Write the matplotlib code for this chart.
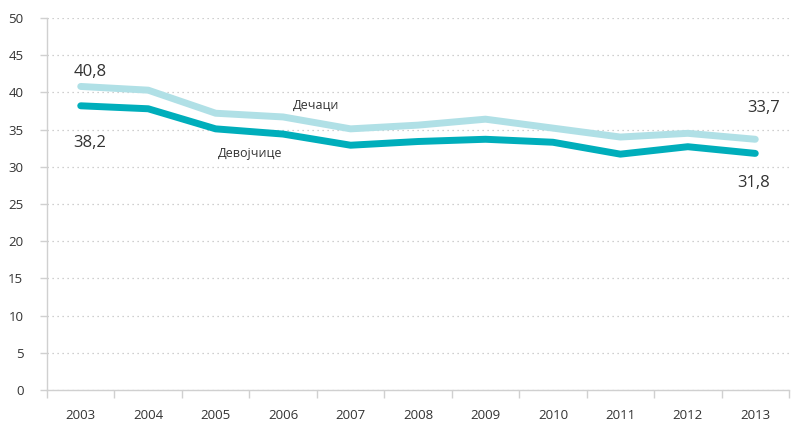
import matplotlib.pyplot as plt
import numpy as np

# values
years = ['2003', '2004', '2005', '2006', '2007', '2008', '2009', '2010', '2011', '2012', '2013']
boys = [40.8, 40.3, 37.2, 36.7, 35.1, 35.6, 36.4, 35.2, 34.0, 34.5, 33.7]
girls = [38.2, 37.8, 35.1, 34.4, 32.9, 33.4, 33.7, 33.3, 31.7, 32.7, 31.8]

plt.rcParams['font.family'] = ['Open Sans', 'DejaVu Sans']

fig = plt.figure(figsize=(7.91, 4.23), dpi=100)
ax = fig.add_axes([47 / 791, 1 - 390 / 423, 742 / 791, 372 / 423])

x = np.arange(len(years))
ax.plot(x, boys, color='#b0e0e6', lw=5, solid_capstyle='round', solid_joinstyle='round', zorder=3)
ax.plot(x, girls, color='#00aebb', lw=5, solid_capstyle='round', solid_joinstyle='round', zorder=3)

ax.set_xlim(-0.5, len(years) - 0.5)
ax.set_ylim(0, 50)
ax.set_yticks(range(0, 51, 5))
ax.set_xticks(x)
ax.set_xticklabels(years)
ax.set_xticks(np.arange(-0.5, len(years), 1), minor=True)

ax.tick_params(axis='x', which='major', length=0, pad=14, labelsize=9.5, colors='#333333')
ax.tick_params(axis='x', which='minor', length=6, width=1, color='#d0d0d0')
ax.tick_params(axis='y', length=5, width=1, color='#d0d0d0', labelsize=9.5, labelcolor='#333333', pad=12)

ax.grid(axis='y', linestyle=(0, (1, 3)), color='#c0c0c0', lw=0.9)
for s in ['top', 'right']:
    ax.spines[s].set_visible(False)
for s in ['left', 'bottom']:
    ax.spines[s].set_color('#d0d0d0')
    ax.spines[s].set_linewidth(1)

# value labels
ax.text(-0.11, 42.7, '40,8', fontsize=12, color='#333333', va='center', ha='left')
ax.text(-0.11, 33.2, '38,2', fontsize=12, color='#333333', va='center', ha='left')
ax.text(9.88, 37.9, '33,7', fontsize=12, color='#333333', va='center', ha='left')
ax.text(9.74, 27.8, '31,8', fontsize=12, color='#333333', va='center', ha='left')

# series labels
ax.text(3.49, 38.2, 'Дечаци', fontsize=9, color='#333333', ha='center', va='center')
ax.text(2.51, 31.8, 'Девојчице', fontsize=9, color='#333333', ha='center', va='center')

fig.savefig('out.png', dpi=100)
